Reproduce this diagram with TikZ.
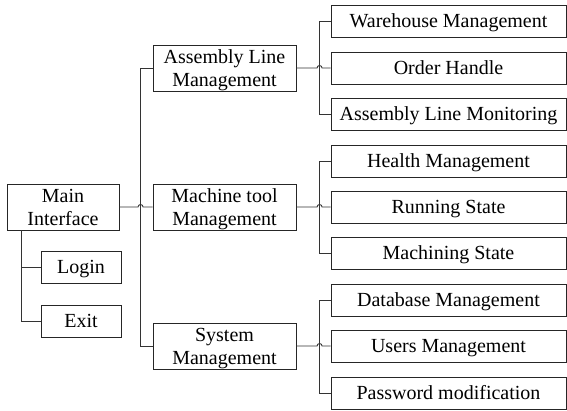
\documentclass[tikz,border=0pt]{standalone}
\usepackage{fontspec}
\setmainfont{Liberation Serif}
\usetikzlibrary{calc}
\begin{document}
\begin{tikzpicture}[x=1pt,y=-1pt,
  every node/.style={font=\fontsize{20}{23}\selectfont},
  box/.style={draw=black!85, line width=0.9pt, inner sep=0pt, align=center, text=black},
  twoline/.style={box, text height=36.5pt, text depth=0.5pt},
  bigbox/.style={twoline, minimum width=143pt, minimum height=46pt},
  leaf/.style={box, minimum width=235pt, minimum height=32pt, text height=13.5pt, text depth=0.5pt},
  small/.style={box, minimum width=80pt, minimum height=32pt, text height=13.5pt, text depth=0.5pt},
  wire/.style={line width=0.9pt, black!80},
  hop/.style={wire}]
\useasboundingbox (0,0) rectangle (567,410);

% root and its side entries
\node[twoline, minimum width=112pt, minimum height=46pt] (main) at (63,207) {Main\\Interface};
\node[small] (login) at (81,267) {Login};
\node[small] (exitb) at (81,321) {Exit};

% second level
\node[bigbox] (asm)  at (224.5,68)  {Assembly Line\\Management};
\node[bigbox] (mach) at (224.5,207) {Machine tool\\Management};
\node[bigbox] (sys)  at (224.5,346) {System\\Management};

% third level
\node[leaf] (wh)  at (448.5,21)  {Warehouse Management};
\node[leaf] (oh)  at (448.5,68)  {Order Handle};
\node[leaf] (alm) at (448.5,114) {Assembly Line Monitoring};
\node[leaf] (hm)  at (448.5,161) {Health Management};
\node[leaf] (rs)  at (448.5,207) {Running State};
\node[leaf] (ms)  at (448.5,253) {Machining State};
\node[leaf] (db)  at (448.5,300) {Database Management};
\node[leaf] (um)  at (448.5,346) {Users Management};
\node[leaf] (pm)  at (448.5,393) {Password modification};

% root trunk to Login / Exit
\coordinate (mt) at ($(main.south west)+(15,0)$);
\draw[wire] (mt) |- (exitb.west);
\draw[wire] (mt |- login.west) -- (login.west);

% buses
\draw[wire] (asm.west) -- ++(-12,0) coordinate (b1) |- (sys.west);
\draw[wire] (wh.west) -- ++(-11,0) coordinate (b2) |- (alm.west);
\draw[wire] (hm.west) -- ++(-11,0) coordinate (b3) |- (ms.west);
\draw[wire] (db.west) -- ++(-11,0) coordinate (b4) |- (pm.west);

% crossings with a small hop over the bus
\draw[hop] (main.east) -- ($(b1 |- main.east)+(-2.5,0)$)
  arc[start angle=180, end angle=0, radius=2.5pt] -- (mach.west);
\draw[hop] (asm.east) -- ($(b2 |- asm.east)+(-2.5,0)$)
  arc[start angle=180, end angle=0, radius=2.5pt] -- (oh.west);
\draw[hop] (mach.east) -- ($(b3 |- mach.east)+(-2.5,0)$)
  arc[start angle=180, end angle=0, radius=2.5pt] -- (rs.west);
\draw[hop] (sys.east) -- ($(b4 |- sys.east)+(-2.5,0)$)
  arc[start angle=180, end angle=0, radius=2.5pt] -- (um.west);
\end{tikzpicture}
\end{document}
